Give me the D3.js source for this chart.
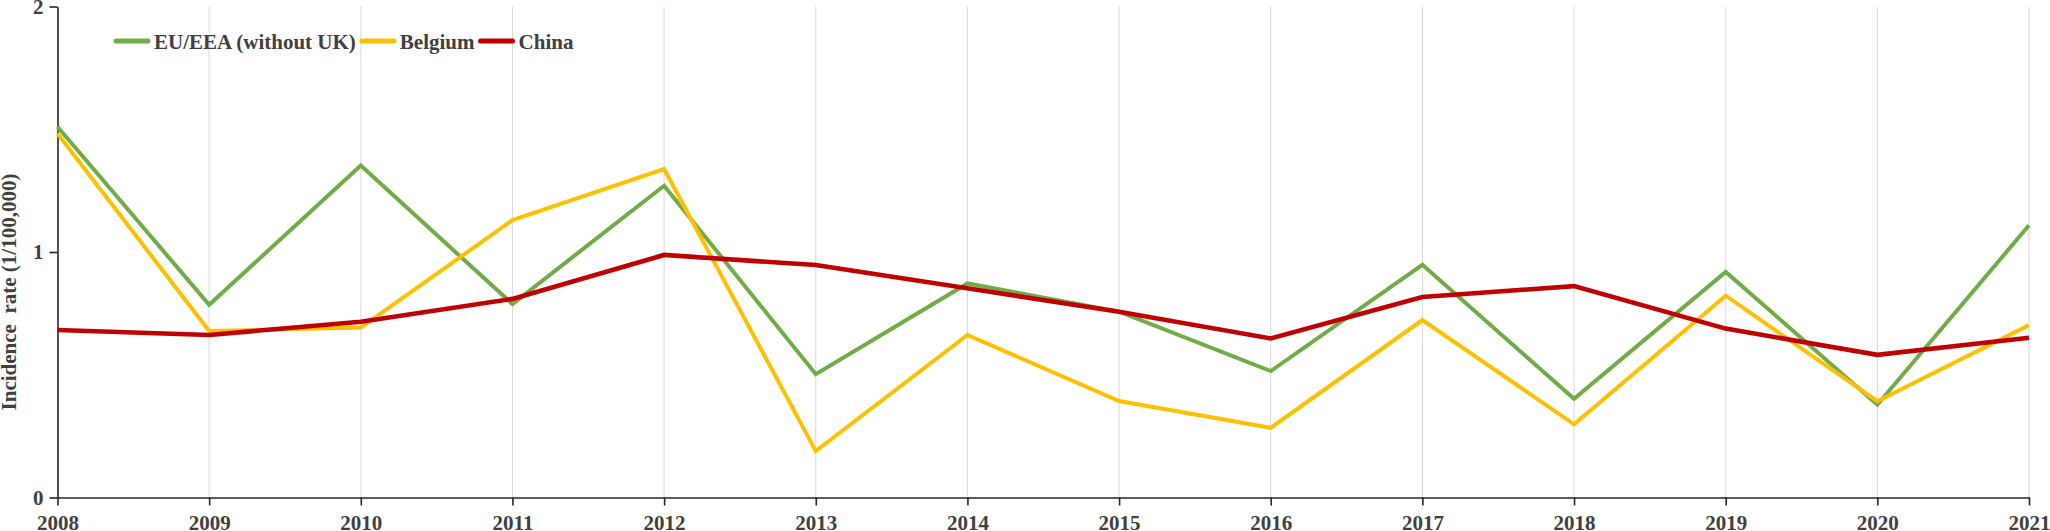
<!DOCTYPE html>
<html>
<head>
<meta charset="utf-8">
<script src="https://cdn.jsdelivr.net/npm/d3@7"></script>
<style>
  html, body { margin: 0; padding: 0; background: #fff; }
  svg { display: block; }
  text { font-family: "Liberation Serif", "Times New Roman", serif; font-weight: bold; }
</style>
</head>
<body>
<svg id="chart" width="2050" height="531"></svg>
<script>
const years = [2008, 2009, 2010, 2011, 2012, 2013, 2014, 2015, 2016, 2017, 2018, 2019, 2020, 2021];
const euValues = [1.51, 0.785, 1.352, 0.788, 1.27, 0.502, 0.872, 0.757, 0.515, 0.948, 0.402, 0.919, 0.378, 1.109];
const belgiumValues = [1.483, 0.678, 0.692, 1.13, 1.338, 0.189, 0.662, 0.393, 0.284, 0.723, 0.298, 0.822, 0.392, 0.702];
const chinaValues = [0.682, 0.662, 0.716, 0.809, 0.988, 0.947, 0.852, 0.757, 0.648, 0.817, 0.861, 0.688, 0.581, 0.651];
const yTicks = [0, 1, 2];
const seriesNames = ["EU/EEA (without UK)", "Belgium", "China"];
const seriesColors = ["#70AD47", "#FFC000", "#C00000"];
const seriesWidths = [4, 4, 4.6];
const yTitle = "Incidence  rate (1/100,000)";

(function () {
const svg = d3.select("#chart");
const mLeft = 57.5, mRight = 2029, mTop = 6.5, mBottom = 497.5;
const textColor = "#404040";

const x = d3.scaleLinear().domain([2008, 2021]).range([mLeft, mRight]);
const y = d3.scaleLinear().domain([0, 2]).range([mBottom, mTop]);

// vertical grid lines
svg.append("g").selectAll("line").data(years.slice(1)).join("line")
  .attr("x1", d => x(d)).attr("x2", d => x(d))
  .attr("y1", y(2)).attr("y2", y(0))
  .attr("stroke", "#d9d9d9").attr("stroke-width", 1);

// axes
const xAxis = svg.append("g").attr("transform", `translate(0,${mBottom})`)
  .call(d3.axisBottom(x).tickValues(years).tickFormat(d3.format("d")).tickSize(8).tickSizeOuter(0));
xAxis.selectAll("text").attr("y", 32).attr("dy", 0)
  .style("font-size", "21px").attr("fill", textColor);

const yAxis = svg.append("g").attr("transform", `translate(${mLeft},0)`)
  .call(d3.axisLeft(y).tickValues(yTicks).tickFormat(d3.format("d")).tickSize(8).tickPadding(6).tickSizeOuter(0));
yAxis.selectAll("text").style("font-size", "21px").attr("fill", textColor);

[xAxis, yAxis].forEach(a => {
  a.select(".domain").attr("stroke", "#262626").attr("stroke-width", 1.6);
  a.selectAll(".tick line").attr("stroke", "#262626").attr("stroke-width", 1.6);
});

// y title
svg.append("text")
  .attr("transform", `translate(16,${(mTop + mBottom) / 2 + 40}) rotate(-90)`)
  .attr("text-anchor", "middle")
  .attr("xml:space", "preserve")
  .style("white-space", "pre")
  .style("font-size", "21px")
  .attr("fill", textColor)
  .text(yTitle);

// lines
const allValues = [euValues, belgiumValues, chinaValues];
const line = d3.line().x((d, i) => x(years[i])).y(d => y(d));
allValues.forEach((vals, k) => {
  svg.append("path").datum(vals)
    .attr("d", line)
    .attr("fill", "none")
    .attr("stroke", seriesColors[k])
    .attr("stroke-width", seriesWidths[k])
    .attr("stroke-linejoin", "miter");
});

// legend
const legend = svg.append("g");
let lx = 116;
const ly = 41;
seriesNames.forEach((name, k) => {
  legend.append("line")
    .attr("x1", lx).attr("x2", lx + 32)
    .attr("y1", ly).attr("y2", ly)
    .attr("stroke", seriesColors[k]).attr("stroke-width", 5).attr("stroke-linecap", "round");
  const t = legend.append("text")
    .attr("x", lx + 38).attr("y", ly + 7.5)
    .style("font-size", "21px")
    .attr("fill", textColor)
    .text(name);
  lx = lx + 38 + t.node().getComputedTextLength() + 6;
});
})();
</script>
</body>
</html>
